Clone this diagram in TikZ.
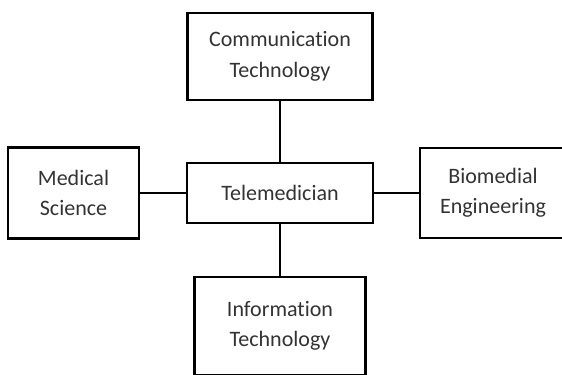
\documentclass[tikz,border=0pt]{standalone}
\usepackage{fontspec}
\setmainfont{Carlito}[Ligatures={TeX,NoCommon}]

\begin{document}
\begin{tikzpicture}[
    box/.style={draw, rectangle, line width=2.2pt, align=center, text=black!80,
                font=\fontsize{18.8}{26}\selectfont},
    link/.style={line width=2.2pt}
  ]
    \clip (0,0) rectangle (16.86,11.22);
    % Nodes
    \node[box, minimum width=5.58cm, minimum height=1.8cm] (tele) at (8.4,5.43) {Telemedician};
    
    \node[box, minimum width=5.55cm, minimum height=2.61cm] (comm) at (8.4,9.525) {Communication\\Technology};
    
    \node[box, minimum width=3.93cm, minimum height=2.73cm] (med) at (2.205,5.43) {Medical\\Science};
    
    \node[box, minimum width=4.38cm, minimum height=2.7cm] (bio) at (14.79,5.43) {Biomedial\\Engineering};
    
    \node[box, minimum width=5.13cm, minimum height=2.94cm] (info) at (8.4,1.44) {Information\\Technology};
    
    % Links
    \draw[link] (comm) -- (tele);
    \draw[link] (tele) -- (info);
    \draw[link] (med) -- (tele);
    \draw[link] (tele) -- (bio);
\end{tikzpicture}
\end{document}
